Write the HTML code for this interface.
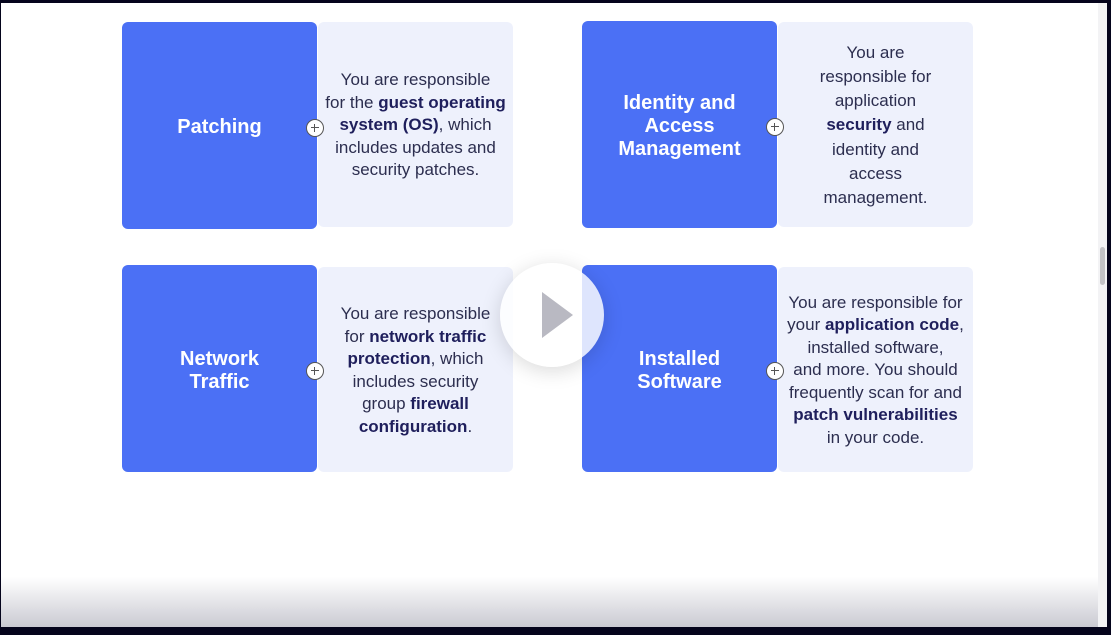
<!DOCTYPE html>
<html><head><style>
body{margin:0;width:1111px;height:635px;background:#05041c;overflow:hidden;font-family:"Liberation Sans",sans-serif;position:relative}
#pg{position:absolute;left:1px;top:3px;width:1097px;height:624px;background:#fff;overflow:hidden}
#fade{position:absolute;left:0;right:0;bottom:0;height:50px;background:linear-gradient(#fff0,#cacad2)}
#sb{position:absolute;left:1098px;top:3px;width:9px;height:624px;background:#f3f3f5}
#th{position:absolute;left:1100px;top:247px;width:5px;height:38px;background:#c2c2c6;border-radius:3px}
.b{position:absolute;width:195px;height:207px;background:#4b70f5;border-radius:6px;color:#fff;font-weight:bold;font-size:20px;line-height:23px;display:flex;align-items:center;justify-content:center;text-align:center;padding-top:4px;box-sizing:border-box}
.l{position:absolute;width:195px;height:205px;background:#eef1fc;border-radius:6px;color:#2c2e4f;font-size:17px;line-height:22.5px;display:flex;align-items:center;justify-content:center;text-align:center;padding-top:2px;box-sizing:border-box}
.l b{color:#1f1f5c}
.p{position:absolute;width:18px;height:18px;border:1.5px solid #555;border-radius:50%;background:#fff;box-sizing:border-box}
.p:before{content:"";position:absolute;left:3.5px;top:7.2px;width:8px;height:1.3px;background:#555}
.p:after{content:"";position:absolute;left:6.9px;top:3.8px;width:1.3px;height:8px;background:#555}
</style></head><body>
<div id="pg">
<div id="fade"></div>
</div>
<div class="b" style="left:122px;top:22px"><div>Patching</div></div>
<div class="l" style="left:318px;top:22px"><div>You are responsible<br>for the <b>guest operating</b><br><b>system (OS)</b>, which<br>includes updates and<br>security patches.</div></div>
<div class="p" style="left:306px;top:119px"></div>
<div class="b" style="left:582px;top:21px"><div>Identity and<br>Access<br>Management</div></div>
<div class="l" style="left:778px;top:22px;line-height:24.2px"><div>You are<br>responsible for<br>application<br><b>security</b> and<br>identity and<br>access<br>management.</div></div>
<div class="p" style="left:766px;top:118px"></div>
<div class="b" style="left:122px;top:265px"><div>Network<br>Traffic</div></div>
<div class="l" style="left:318px;top:267px"><div>You are responsible<br>for <b>network traffic</b><br><b>protection</b>, which<br>includes security<br>group <b>firewall</b><br><b>configuration</b>.</div></div>
<div class="p" style="left:306px;top:362px"></div>
<div class="b" style="left:582px;top:265px"><div>Installed<br>Software</div></div>
<div class="l" style="left:778px;top:267px"><div>You are responsible for<br>your <b>application code</b>,<br>installed software,<br>and more. You should<br>frequently scan for and<br><b>patch vulnerabilities</b><br>in your code.</div></div>
<div class="p" style="left:766px;top:362px"></div>
<div style="position:absolute;left:500px;top:263px;width:104px;height:104px;border-radius:50%;background:rgba(255,255,255,0.82);box-shadow:0 4px 20px rgba(0,0,0,0.15)"></div>
<div style="position:absolute;left:542px;top:292px;width:0;height:0;border-left:31px solid #b9b9c2;border-top:23px solid transparent;border-bottom:23px solid transparent"></div>
<div id="sb"></div><div id="th"></div>
</body></html>
